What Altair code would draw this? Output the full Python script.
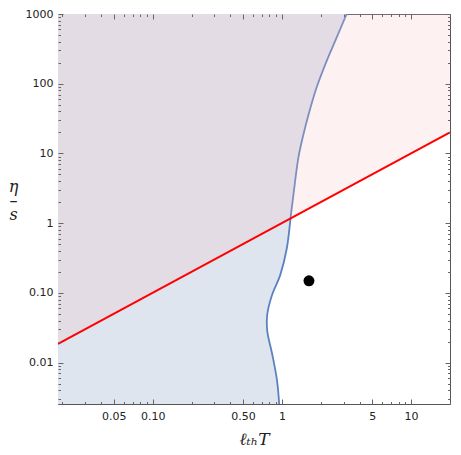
import altair as alt
import pandas as pd

# ---- data ----
x_dom = [0.0185, 20]
y_dom = [0.00255, 1000]

blue_x = [3.17, 2.63, 2.21, 1.85, 1.61, 1.45, 1.345, 1.26, 1.18, 1.09, 0.97, 0.84, 0.77, 0.77, 0.84, 0.916, 0.953]
blue_y = [1000, 443, 208, 87, 36.6, 17.1, 8.95, 3.76, 1.42, 0.43, 0.18, 0.094, 0.049, 0.0286, 0.0134, 0.0056, 0.00255]

red_x = [0.0185, 20]
red_y = [0.0185, 20]

dot_x = [1.62]
dot_y = [0.149]

x_label_vals = [0.05, 0.1, 0.5, 1, 5, 10]
x_label_txt = ["0.05", "0.10", "0.50", "1", "5", "10"]
y_label_vals = [0.01, 0.1, 1, 10, 100, 1000]
y_label_txt = ["0.01", "0.10", "1", "10", "100", "1000"]

x_minor_mant = [2, 3, 4, 6, 7, 8, 9]
x_decades = [0.01, 0.1, 1, 10]
y_minor_mant = [2, 3, 4, 5, 6, 7, 8, 9]
y_decades = [0.001, 0.01, 0.1, 1, 10, 100]

x_ticks = sorted(set(x_label_vals + [round(m * d, 6) for d in x_decades for m in x_minor_mant
                                     if x_dom[0] <= m * d <= x_dom[1]]))
y_ticks = sorted(set(y_label_vals + [round(m * d, 6) for d in y_decades for m in y_minor_mant
                                     if y_dom[0] <= m * d <= y_dom[1]]))

W, H = 392, 390

df_blue = pd.DataFrame({"x": blue_x, "y": blue_y, "x0": [x_dom[0]] * len(blue_x),
                        "i": list(range(len(blue_x)))})
df_red = pd.DataFrame({"x": red_x, "y": red_y, "top": [y_dom[1]] * len(red_x)})
df_dot = pd.DataFrame({"x": dot_x, "y": dot_y})

xs = alt.Scale(type="log", domain=x_dom, nice=False)
ys = alt.Scale(type="log", domain=y_dom, nice=False)


def lab_expr(vals, txts):
    expr = "''"
    for v, t in reversed(list(zip(vals, txts))):
        expr = f"datum.value == {v} ? '{t}' : ({expr})"
    return expr


def tick_axis(orient, offset, values, majors):
    return alt.Axis(orient=orient, offset=offset, values=values, labels=False, domain=False,
                    grid=False, title=None, ticks=True, tickColor="#666666", tickWidth=1,
                    tickSize={"condition": {"test": f"indexof({majors}, datum.value) >= 0", "value": 5},
                              "value": 2.5},
                    zindex=1)


x_label_axis = alt.Axis(orient="bottom", values=x_label_vals, labelExpr=lab_expr(x_label_vals, x_label_txt),
                        ticks=False, domain=False, grid=False, labelFont="DejaVu Sans", labelFontSize=11,
                        labelColor="#222222", labelPadding=6, labelFlush=False, labelOverlap=False,
                        title="ℓₜₕT", titleFont="DejaVu Serif", titleFontStyle="italic",
                        titleFontWeight="normal", titleFontSize=17, titleColor="#222222",
                        titleBaseline="middle", titleY=35)
y_label_axis = alt.Axis(orient="left", values=y_label_vals, labelExpr=lab_expr(y_label_vals, y_label_txt),
                        ticks=False, domain=False, grid=False, labelFont="DejaVu Sans", labelFontSize=11,
                        labelColor="#222222", labelPadding=5, labelFlush=False, labelOverlap=False,
                        title=["η", "–", "s"], titleAngle=0, titleFont="DejaVu Serif",
                        titleFontStyle="italic", titleFontWeight="normal", titleFontSize=16,
                        titleColor="#222222", titleAlign="center", titleBaseline="middle",
                        titleLineHeight=14, titleX=-45, titleY=172)

area_blue = alt.Chart(df_blue).mark_area(orient="horizontal", color="#dfe5ef", interpolate="catmull-rom",
                                         clip=True).encode(
    y=alt.Y("y:Q", scale=ys, axis=y_label_axis),
    x=alt.X("x:Q", scale=xs, axis=x_label_axis),
    x2="x0:Q",
)

line_blue = alt.Chart(df_blue).mark_line(color="#5b82c0", strokeWidth=1.8, interpolate="catmull-rom",
                                         clip=True).encode(
    x=alt.X("x:Q", scale=xs, axis=tick_axis("top", -H, x_ticks, x_label_vals)),
    y=alt.Y("y:Q", scale=ys, axis=tick_axis("right", -W, y_ticks, y_label_vals)),
    order="i:Q",
)

area_pink = alt.Chart(df_red).mark_area(color="#f5bebe", opacity=0.22, clip=True).encode(
    x=alt.X("x:Q", scale=xs, axis=tick_axis("bottom", -H, x_ticks, x_label_vals)),
    y=alt.Y("y:Q", scale=ys, axis=tick_axis("left", -W, y_ticks, y_label_vals)),
    y2="top:Q",
)

line_red = alt.Chart(df_red).mark_line(color="#ff0000", strokeWidth=2, clip=True).encode(
    x=alt.X("x:Q", scale=xs, axis=None),
    y=alt.Y("y:Q", scale=ys, axis=None),
)

dot = alt.Chart(df_dot).mark_circle(size=120, color="black", opacity=1).encode(
    x=alt.X("x:Q", scale=xs, axis=None),
    y=alt.Y("y:Q", scale=ys, axis=None),
)

chart = alt.layer(area_blue, line_blue, area_pink, line_red, dot).resolve_axis(
    x="independent", y="independent"
).properties(
    width=W, height=H,
    autosize=alt.AutoSizeParams(type="none"),
    padding={"left": 50, "top": 6, "right": 3, "bottom": 48},
    background="white",
).configure_view(stroke="#555555", strokeWidth=1)

chart.save("out.html", embed_options={"renderer": "svg", "actions": False})
